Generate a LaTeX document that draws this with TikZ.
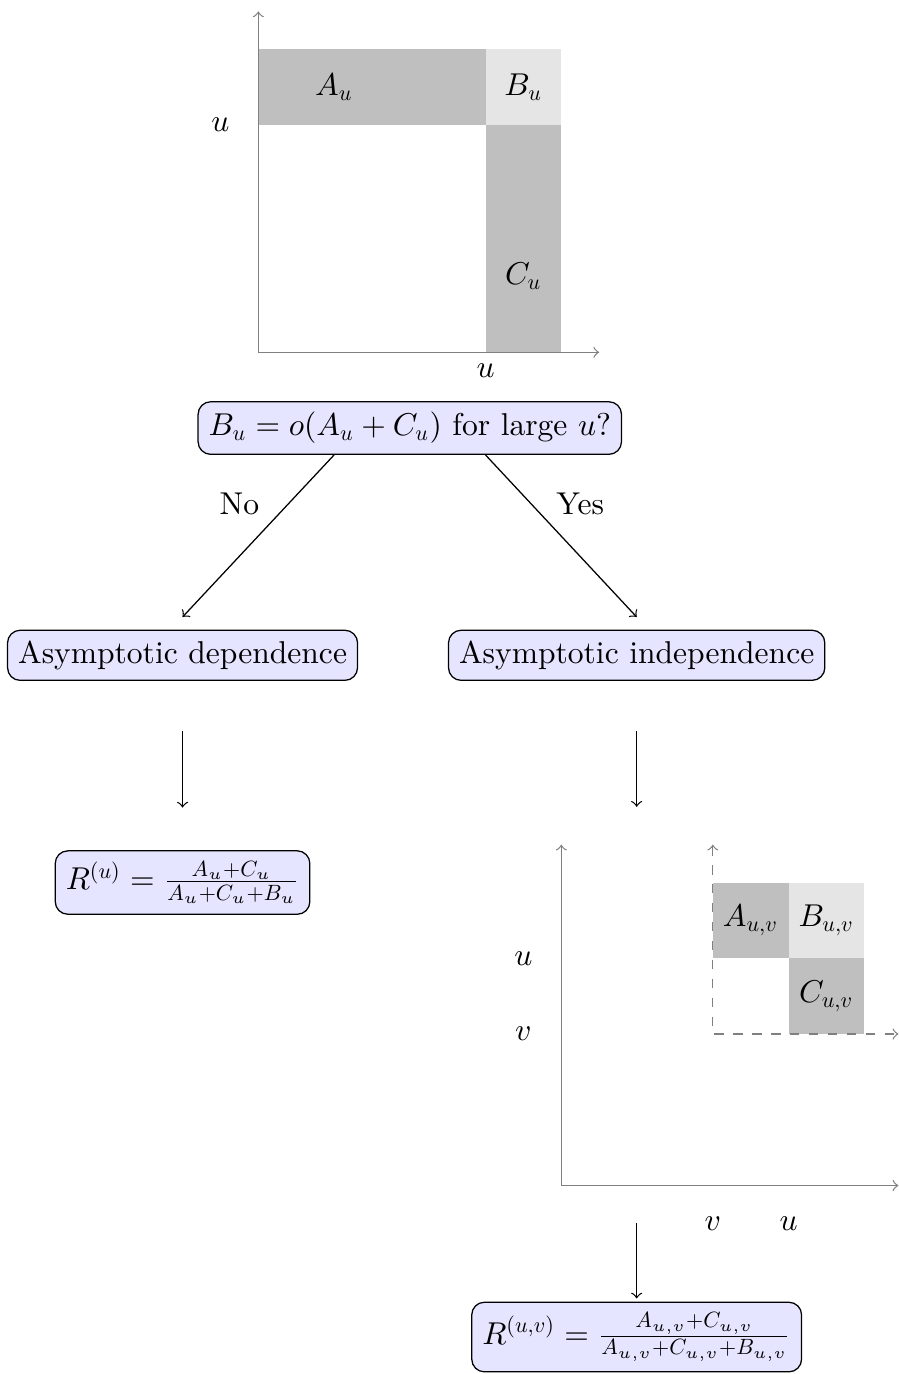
\documentclass[tikz,border=0pt]{standalone}
\usetikzlibrary{calc}
\DeclareFontShape{OML}{cmm}{m}{it}{<-6>cmmi5<6->cmmi10}{\skewchar\font127 }
\DeclareFontShape{OT1}{cmr}{m}{n}{<->cmr10}{}
\DeclareFontShape{OMS}{cmsy}{m}{n}{<->cmsy10}{\skewchar\font48 }
\begin{document}
\begin{tikzpicture}[x=24pt,y=24pt,
  box/.style={draw=black, rounded corners=4pt, fill=blue!10},
  axisline/.style={draw=gray, <->},
  dashaxis/.style={draw=gray, dashed, <->},
  conn/.style={draw=black, ->},
  darkfill/.style={fill=gray!50},
  lightfill/.style={fill=gray!20}]
\useasboundingbox (-3.41,-13.488) rectangle (8.458,4.651);

% ---- top plot ----
\fill[darkfill] (0,3) rectangle (3,4);
\fill[lightfill] (3,3) rectangle (4,4);
\fill[darkfill] (3,0) rectangle (4,3);
\draw[axisline] (0,4.5) -- (0,0) -- (4.5,0);
\node (lAu) at (1,3.5) {$A_u$};
\node (lBu) at (3.5,3.5) {$B_u$};
\node (lCu) at (3.5,1) {$C_u$};
\node (lyu) at (-0.5,3) {$u$};
\node[below] (lxu) at (3,0) {$u$};

% ---- decision ----
\node[box] (dec) at (2,-1) {$B_u = o(A_u + C_u)$ for large $u$?};
\node[box] (dep) at (-1,-4) {Asymptotic dependence};
\node[box] (ind) at (4.995,-4) {Asymptotic independence};
\node (no) at (-0.25,-2) {No};
\node (yes) at (4.25,-2) {Yes};
\coordinate (xa) at (1,0);
\coordinate (xb) at (3,0);
\draw[conn] (dec.south -| xa) -- ([yshift=4pt]dep.north);
\draw[conn] (dec.south -| xb) -- ([yshift=4pt]ind.north);

% ---- left branch ----
\node[box] (Ru) at (-1,-7) {$R^{(u)} = \frac{A_u+C_u}{A_u+C_u+B_u}$};
\draw[conn, shorten <=16pt, shorten >=13.5pt] (dep) -- (Ru);

% ---- right branch ----
\coordinate (ptop) at (4.995,-6);
\draw[conn, shorten <=16pt] (ind) -- (ptop);

\fill[darkfill] (6,-8) rectangle (7,-7);
\fill[lightfill] (7,-8) rectangle (8,-7);
\fill[darkfill] (7,-9) rectangle (8,-8);
\draw[axisline] (4,-6.5) -- (4,-11) -- (8.45,-11);
\draw[dashaxis] (6,-6.5) -- (6,-9) -- (8.45,-9);
\node (lAuv) at (6.5,-7.5) {$A_{u,v}$};
\node (lBuv) at (7.5,-7.5) {$B_{u,v}$};
\node (lCuv) at (7.5,-8.5) {$C_{u,v}$};
\node (lyu2) at (3.5,-8) {$u$};
\node (lyv2) at (3.5,-9) {$v$};
\node (lxv2) at (6,-11.5) {$v$};
\node (lxu2) at (7,-11.5) {$u$};

\coordinate (pbot) at (4.995,-11.5);
\node[box] (Ruv) at (4.995,-13) {$R^{(u,v)} = \frac{A_{u,v}+C_{u,v}}{A_{u,v}+C_{u,v}+B_{u,v}}$};
\draw[conn, shorten >=1pt] (pbot) -- (Ruv);
\end{tikzpicture}
\end{document}
